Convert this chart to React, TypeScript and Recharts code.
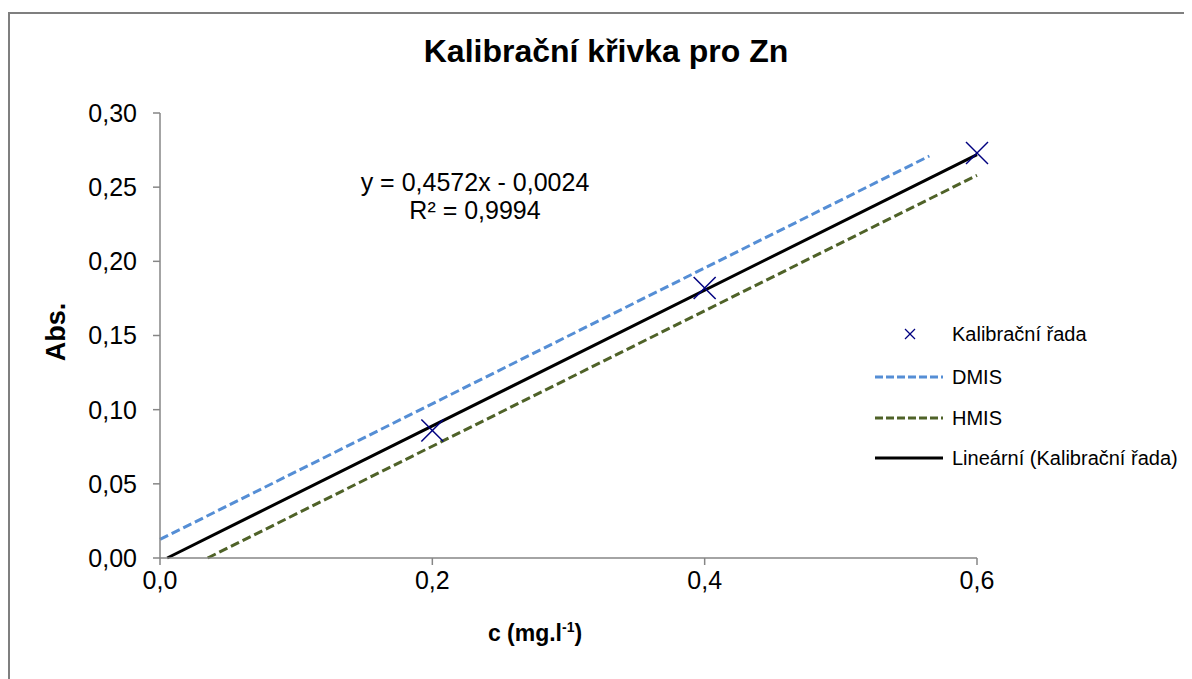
import { ComposedChart, Line, Scatter, XAxis, YAxis } from 'recharts';

const title = 'Kalibrační křivka pro Zn';
const xTicks = [0, 0.2, 0.4, 0.6];
const yTicks = [0, 0.05, 0.1, 0.15, 0.2, 0.25, 0.3];

// measured points
const calibration = [
  { x: 0.2, y: 0.086 },
  { x: 0.4, y: 0.182 },
  { x: 0.6, y: 0.273 },
];
// lines, endpoints
const dmis = [
  { x: 0, y: 0.0125 },
  { x: 0.565, y: 0.271 },
];
const hmis = [
  { x: 0.035, y: 0 },
  { x: 0.6, y: 0.258 },
];
const trend = [
  { x: 0.0053, y: 0 },
  { x: 0.6, y: 0.272 },
];

const FONT = '"Liberation Sans", Arial, sans-serif';
const AXIS = '#868686';
const NAVY = '#000080';
const BLUE = '#558ED5';
const OLIVE = '#4F6228';

const comma = (v: number, d: number) => v.toFixed(d).replace('.', ',');

function Cross(props: any) {
  const { cx, cy } = props;
  const r = 11;
  return (
    <g stroke={NAVY} strokeWidth={1.5}>
      <line x1={cx - r} y1={cy - r} x2={cx + r} y2={cy + r} />
      <line x1={cx - r} y1={cy + r} x2={cx + r} y2={cy - r} />
    </g>
  );
}

function LegendRow({ top, children, label }: { top: number; children: any; label: string }) {
  return (
    <div style={{ position: 'absolute', left: 862, top, height: 30, display: 'flex', alignItems: 'center' }}>
      <svg width={82} height={30}>{children}</svg>
      <span style={{ fontSize: 20, whiteSpace: 'nowrap' }}>{label}</span>
    </div>
  );
}

export default function App() {
  return (
    <div style={{ position: 'relative', width: 1184, height: 671, fontFamily: FONT, color: '#000', background: '#fff' }}>
      <div style={{ position: 'absolute', left: 0, top: 4, right: -20, bottom: -20, borderTop: '2px solid #7f7f7f', borderLeft: '2px solid #7f7f7f' }} />
      <div style={{ position: 'absolute', left: 8, width: 1180, top: 25, textAlign: 'center', fontSize: 32, fontWeight: 'bold' }}>{title}</div>

      <ComposedChart
        width={1184}
        height={671}
        margin={{ top: 105, right: 215, bottom: 81, left: 72 }}
        style={{ position: 'absolute', left: 0, top: 0, fontFamily: FONT }}
      >
        <XAxis
          type="number"
          dataKey="x"
          domain={[0, 0.6]}
          ticks={xTicks}
          tickFormatter={(v: number) => comma(v, 1)}
          height={40}
          stroke={AXIS}
          strokeWidth={1.5}
          tickSize={7}
          tickMargin={6}
          tick={{ fill: '#000', fontSize: 25 }}
        />
        <YAxis
          type="number"
          dataKey="y"
          domain={[0, 0.3]}
          ticks={yTicks}
          tickFormatter={(v: number) => comma(v, 2)}
          width={80}
          stroke={AXIS}
          strokeWidth={1.5}
          tickSize={7}
          tickMargin={16}
          tick={{ fill: '#000', fontSize: 25 }}
        />
        <Line data={dmis} dataKey="y" stroke={BLUE} strokeWidth={3} strokeDasharray="9 4" dot={false} isAnimationActive={false} />
        <Line data={hmis} dataKey="y" stroke={OLIVE} strokeWidth={3} strokeDasharray="9 4" dot={false} isAnimationActive={false} />
        <Line data={trend} dataKey="y" stroke="#000" strokeWidth={3} dot={false} isAnimationActive={false} />
        <Scatter data={calibration} dataKey="y" shape={Cross} isAnimationActive={false} />
      </ComposedChart>

      <div style={{ position: 'absolute', left: 300, width: 334, top: 160, textAlign: 'center', fontSize: 25, lineHeight: '28px' }}>
        <div>y = 0,4572x - 0,0024</div>
        <div>R² = 0,9994</div>
      </div>

      <div style={{ position: 'absolute', left: 48, top: 324, transform: 'translate(-50%, -50%) rotate(-90deg)', fontSize: 27, fontWeight: 'bold', whiteSpace: 'nowrap' }}>
        Abs.
      </div>
      <div style={{ position: 'absolute', left: 527, top: 611, transform: 'translateX(-50%)', fontSize: 23, fontWeight: 'bold', whiteSpace: 'nowrap' }}>
        c (mg.l<sup style={{ fontSize: 14 }}>-1</sup>)
      </div>

      <LegendRow top={311} label="Kalibrační řada">
        <g stroke={NAVY} strokeWidth={1.3}>
          <line x1={35} y1={10} x2={45} y2={20} />
          <line x1={35} y1={20} x2={45} y2={10} />
        </g>
      </LegendRow>
      <LegendRow top={354} label="DMIS">
        <line x1={5} y1={15} x2={73} y2={15} stroke={BLUE} strokeWidth={3} strokeDasharray="8 3" />
      </LegendRow>
      <LegendRow top={395} label="HMIS">
        <line x1={5} y1={15} x2={73} y2={15} stroke={OLIVE} strokeWidth={3} strokeDasharray="8 3" />
      </LegendRow>
      <LegendRow top={435} label="Lineární (Kalibrační řada)">
        <line x1={5} y1={15} x2={73} y2={15} stroke="#000" strokeWidth={3} />
      </LegendRow>
    </div>
  );
}
